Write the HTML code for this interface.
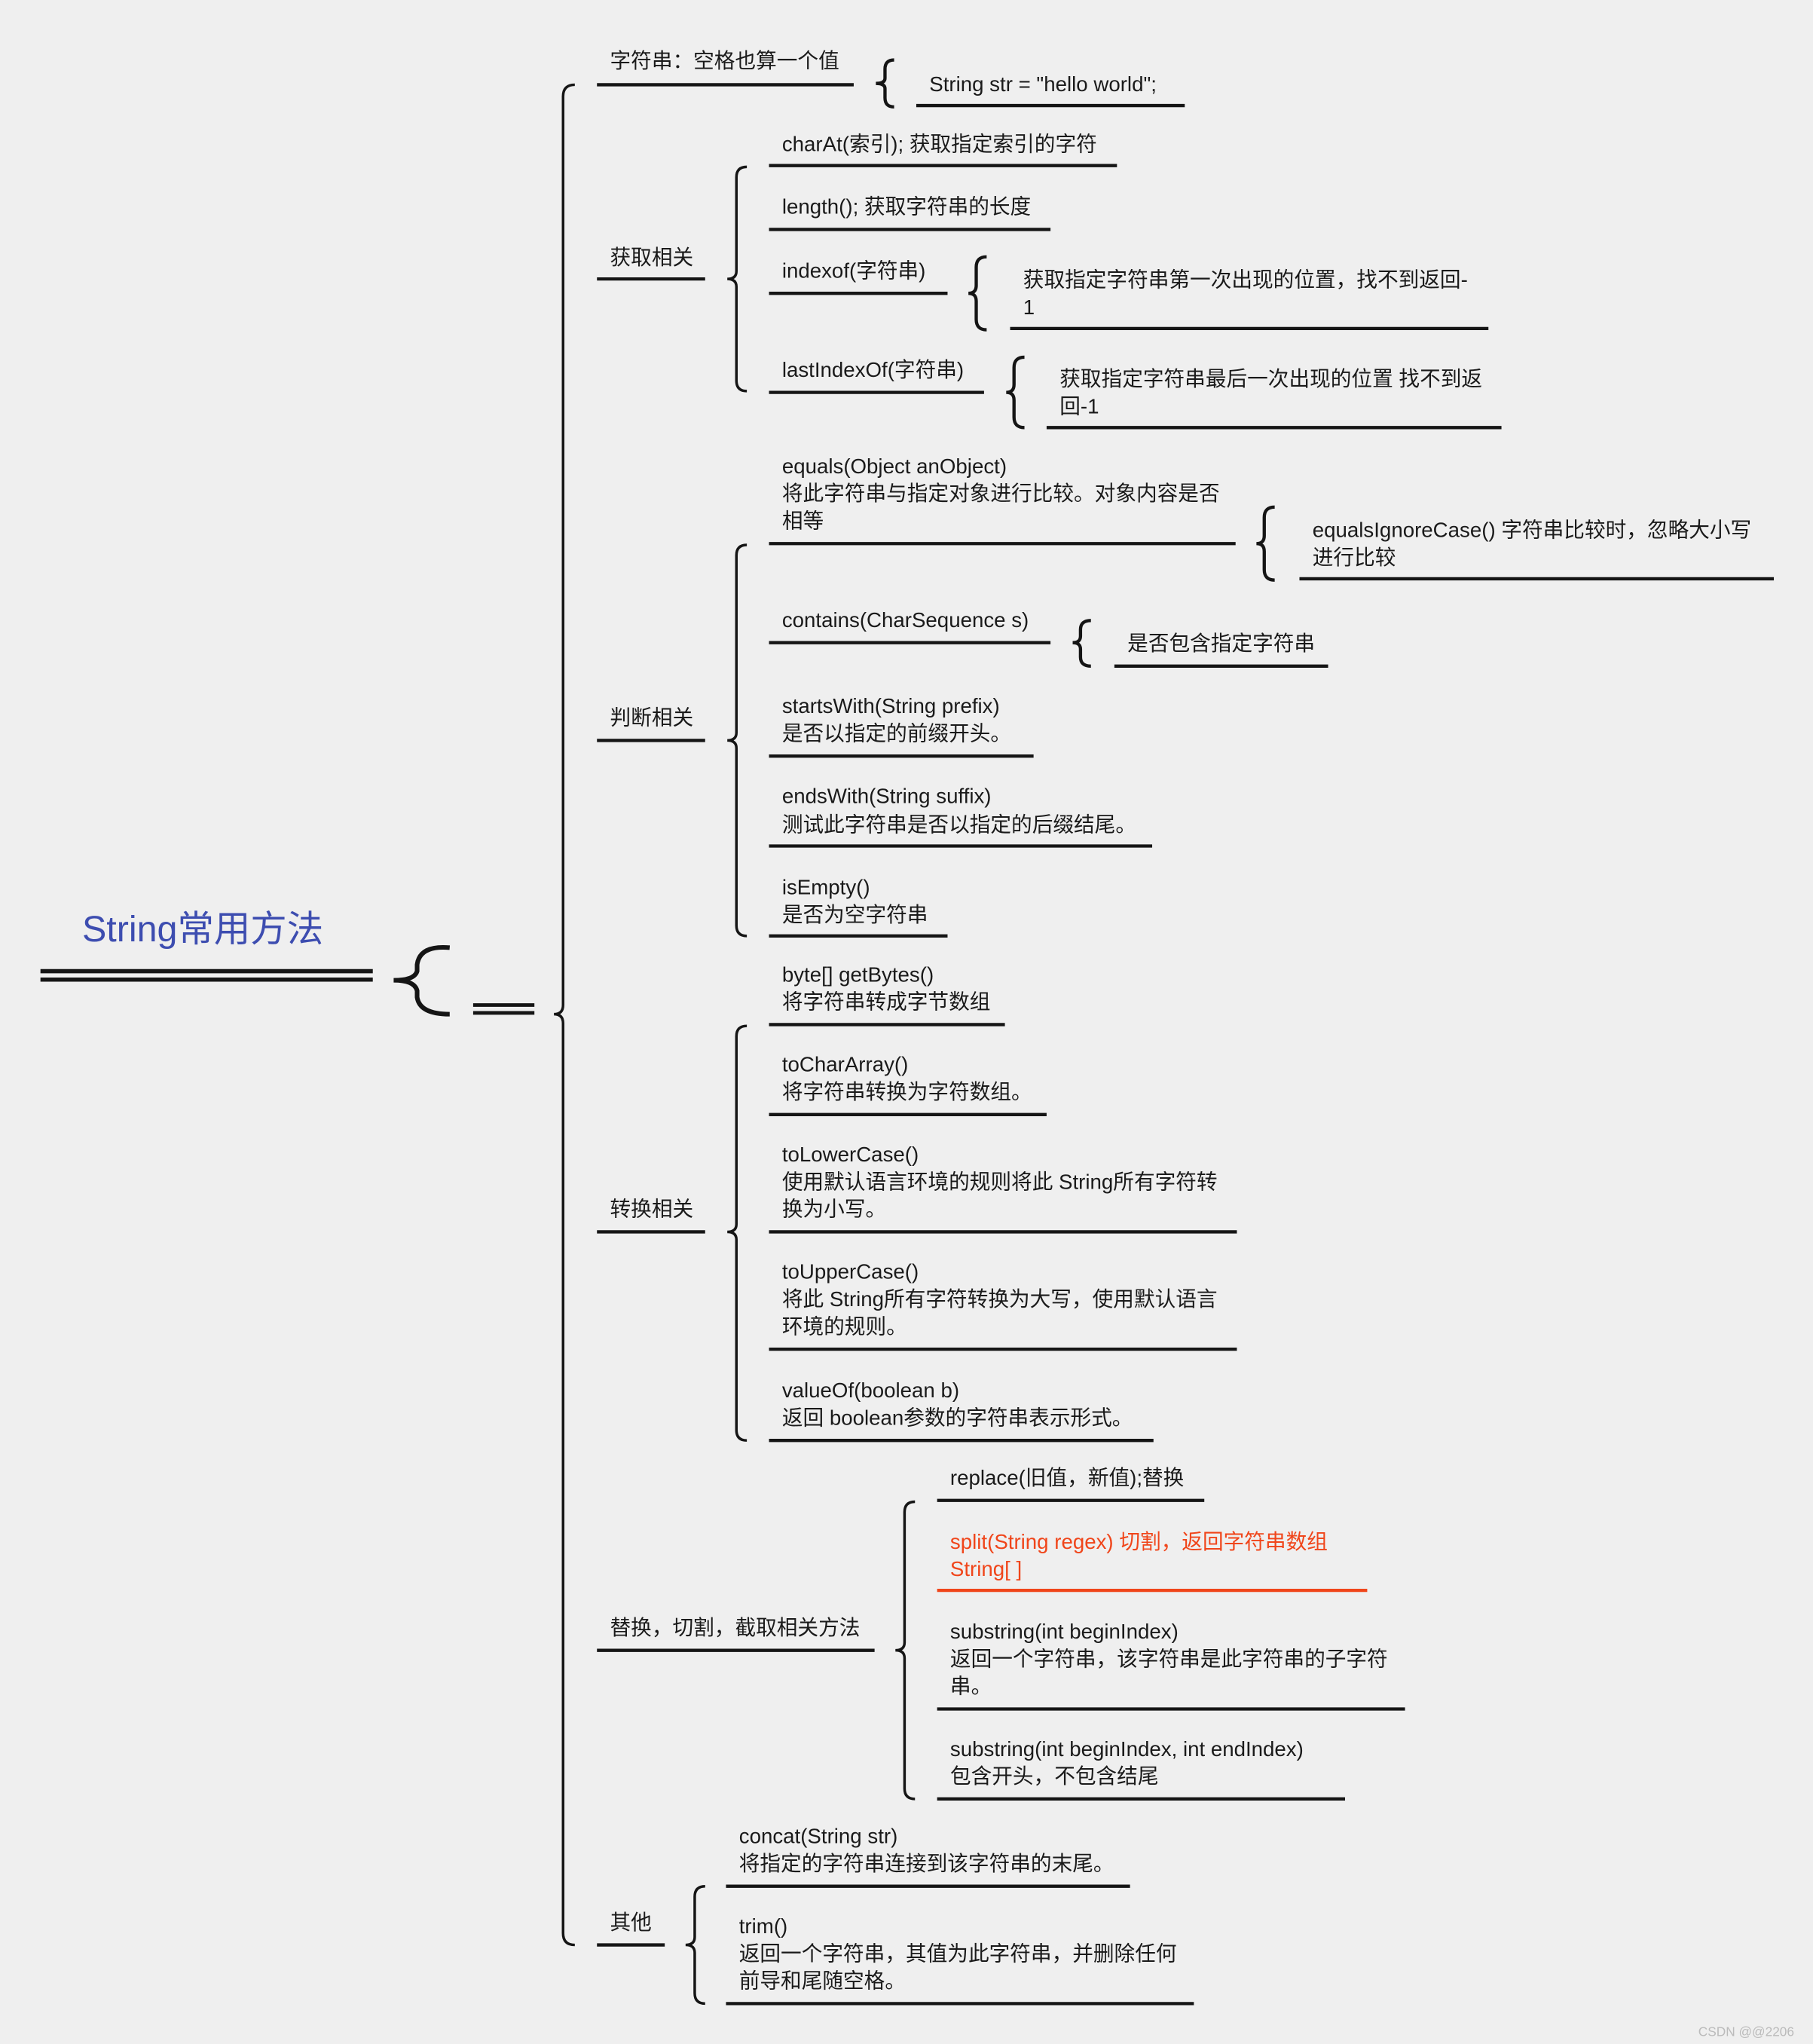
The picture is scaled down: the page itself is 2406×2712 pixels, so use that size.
<!DOCTYPE html>
<html><head><meta charset="utf-8"><style>
html,body{margin:0;padding:0;background:#efefef;}
svg{display:block}
text{font-family:"Liberation Sans","Noto Sans CJK SC",sans-serif;font-size:16px;fill:#1a1a1a}
</style></head><body>
<svg width="2406" height="2712" viewBox="0 0 1391 1568" xmlns="http://www.w3.org/2000/svg">
<rect width="1391" height="1568" fill="#efefef"/>
<g stroke="#151515" fill="none" stroke-linecap="butt">
<!-- root -->
<line x1="31" y1="745" x2="286" y2="745" stroke-width="3.2"/>
<line x1="31" y1="751.5" x2="286" y2="751.5" stroke-width="3.2"/>
<path d="M345 727 Q322 725 320 740 L320 745 Q318 752 302 752 Q318 752 320 760 L320 765 Q322 778 345 778" stroke-width="3.5"/>
<line x1="363" y1="771" x2="410" y2="771" stroke-width="2.8"/>
<line x1="363" y1="777" x2="410" y2="777" stroke-width="2.8"/>
<!-- main brace -->
<path d="M441 65 Q432 65 432 74 L432 771 Q432 778 425 778 Q432 778 432 785 L432 1483 Q432 1492 441 1492" stroke-width="2"/>
<!-- level1 underlines -->
<g stroke-width="2.5">
<line x1="458" y1="65" x2="655" y2="65"/>
<line x1="458" y1="214" x2="541" y2="214"/>
<line x1="458" y1="568" x2="541" y2="568"/>
<line x1="458" y1="945" x2="541" y2="945"/>
<line x1="458" y1="1266" x2="671" y2="1266"/>
<line x1="458" y1="1492" x2="510" y2="1492"/>
<!-- children underlines -->
<line x1="703" y1="81" x2="909" y2="81"/>
<line x1="590" y1="127" x2="857" y2="127"/>
<line x1="590" y1="176" x2="806" y2="176"/>
<line x1="590" y1="225" x2="727" y2="225"/>
<line x1="775" y1="252" x2="1142" y2="252"/>
<line x1="590" y1="301" x2="755" y2="301"/>
<line x1="803" y1="328" x2="1152" y2="328"/>
<line x1="590" y1="417" x2="948" y2="417"/>
<line x1="997" y1="444" x2="1361" y2="444"/>
<line x1="590" y1="493" x2="806" y2="493"/>
<line x1="855" y1="511" x2="1019" y2="511"/>
<line x1="590" y1="580" x2="793" y2="580"/>
<line x1="590" y1="649" x2="884" y2="649"/>
<line x1="590" y1="718" x2="727" y2="718"/>
<line x1="590" y1="786" x2="771" y2="786"/>
<line x1="590" y1="855" x2="803" y2="855"/>
<line x1="590" y1="945" x2="949" y2="945"/>
<line x1="590" y1="1035" x2="949" y2="1035"/>
<line x1="590" y1="1105" x2="885" y2="1105"/>
<line x1="719" y1="1151" x2="924" y2="1151"/>
<line x1="719" y1="1220" x2="1049" y2="1220" stroke="#f0451a"/>
<line x1="719" y1="1311" x2="1078" y2="1311"/>
<line x1="719" y1="1380" x2="1032" y2="1380"/>
<line x1="557" y1="1447" x2="867" y2="1447"/>
<line x1="557" y1="1537" x2="916" y2="1537"/>
</g>
<!-- level1 braces -->
<g stroke-width="2">
<path d="M573 128 Q565 128 565 136 L565 208 Q565 214 558 214 Q565 214 565 220 L565 292 Q565 300 573 300"/>
<path d="M573 418 Q565 418 565 426 L565 562 Q565 568 558 568 Q565 568 565 574 L565 710 Q565 718 573 718"/>
<path d="M573 787 Q565 787 565 795 L565 939 Q565 945 558 945 Q565 945 565 951 L565 1097 Q565 1105 573 1105"/>
<path d="M702 1152 Q694 1152 694 1160 L694 1260 Q694 1266 687 1266 Q694 1266 694 1272 L694 1372 Q694 1380 702 1380"/>
<path d="M541 1447 Q533 1447 533 1455 L533 1486 Q533 1492 526 1492 Q533 1492 533 1498 L533 1529 Q533 1537 541 1537"/>
</g>
<!-- small braces -->
<g stroke-width="2.5">
<path d="M686 46 Q679 46 679 53 L679 60 Q679 64 672 64 Q679 64 679 68 L679 75 Q679 82 686 82"/>
<path d="M757 197 Q749 197 749 205 L749 219 Q749 225 743 225 Q749 225 749 231 L749 245 Q749 253 757 253"/>
<path d="M786 274 Q778 274 778 282 L778 295 Q778 301 772 301 Q778 301 778 307 L778 320 Q778 328 786 328"/>
<path d="M978 389 Q970 389 970 397 L970 411 Q970 417 964 417 Q970 417 970 423 L970 437 Q970 445 978 445"/>
<path d="M837 476 Q829 476 829 483 L829 488 Q829 493 823 493 Q829 493 829 498 L829 504 Q829 511 837 511"/>
</g>
</g>
<text x="63" y="722" style="font-size:28px;fill:#3d4db0">String常用方法</text>
<text x="468" y="52">字符串：空格也算一个值</text>
<text x="713" y="70">String str = "hello world";</text>
<text x="468" y="203">获取相关</text>
<text x="600" y="116">charAt(索引); 获取指定索引的字符</text>
<text x="600" y="164">length(); 获取字符串的长度</text>
<text x="600" y="213">indexof(字符串)</text>
<text x="785" y="220">获取指定字符串第一次出现的位置，找不到返回-</text>
<text x="785" y="241">1</text>
<text x="600" y="289">lastIndexOf(字符串)</text>
<text x="813" y="296">获取指定字符串最后一次出现的位置 找不到返</text>
<text x="813" y="317">回-1</text>
<text x="468" y="556">判断相关</text>
<text x="600" y="363">equals(Object anObject)</text>
<text x="600" y="384">将此字符串与指定对象进行比较。对象内容是否</text>
<text x="600" y="405">相等</text>
<text x="1007" y="412">equalsIgnoreCase() 字符串比较时，忽略大小写</text>
<text x="1007" y="433">进行比较</text>
<text x="600" y="481">contains(CharSequence s)</text>
<text x="865" y="499">是否包含指定字符串</text>
<text x="600" y="547">startsWith(String prefix)</text>
<text x="600" y="568">是否以指定的前缀开头。</text>
<text x="600" y="616">endsWith(String suffix)</text>
<text x="600" y="638">测试此字符串是否以指定的后缀结尾。</text>
<text x="600" y="686">isEmpty()</text>
<text x="600" y="707"> 是否为空字符串</text>
<text x="468" y="933">转换相关</text>
<text x="600" y="753">byte[] getBytes()</text>
<text x="600" y="774">将字符串转成字节数组</text>
<text x="600" y="822">toCharArray()</text>
<text x="600" y="843">将字符串转换为字符数组。</text>
<text x="600" y="891">toLowerCase()</text>
<text x="600" y="912">使用默认语言环境的规则将此 String所有字符转</text>
<text x="600" y="933">换为小写。</text>
<text x="600" y="981">toUpperCase()</text>
<text x="600" y="1002">将此 String所有字符转换为大写，使用默认语言</text>
<text x="600" y="1023">环境的规则。</text>
<text x="600" y="1072">valueOf(boolean b)</text>
<text x="600" y="1093">返回 boolean参数的字符串表示形式。</text>
<text x="468" y="1254">替换，切割，截取相关方法</text>
<text x="729" y="1139">replace(旧值，新值);替换</text>
<text x="729" y="1188" style="fill:#f0451a">split(String regex)  切割，返回字符串数组</text>
<text x="729" y="1209" style="fill:#f0451a">String[ ]</text>
<text x="729" y="1257">substring(int beginIndex)</text>
<text x="729" y="1278">返回一个字符串，该字符串是此字符串的子字符</text>
<text x="729" y="1299">串。</text>
<text x="729" y="1347">substring(int beginIndex, int endIndex)</text>
<text x="729" y="1368">包含开头，不包含结尾</text>
<text x="468" y="1480">其他</text>
<text x="567" y="1414">concat(String str)</text>
<text x="567" y="1435">将指定的字符串连接到该字符串的末尾。</text>
<text x="567" y="1483">trim()</text>
<text x="567" y="1504">返回一个字符串，其值为此字符串，并删除任何</text>
<text x="567" y="1525">前导和尾随空格。</text>
<text x="1303" y="1562" style="font-size:10px;fill:#bbbbbb">CSDN @@2206</text>
</svg>
</body></html>
